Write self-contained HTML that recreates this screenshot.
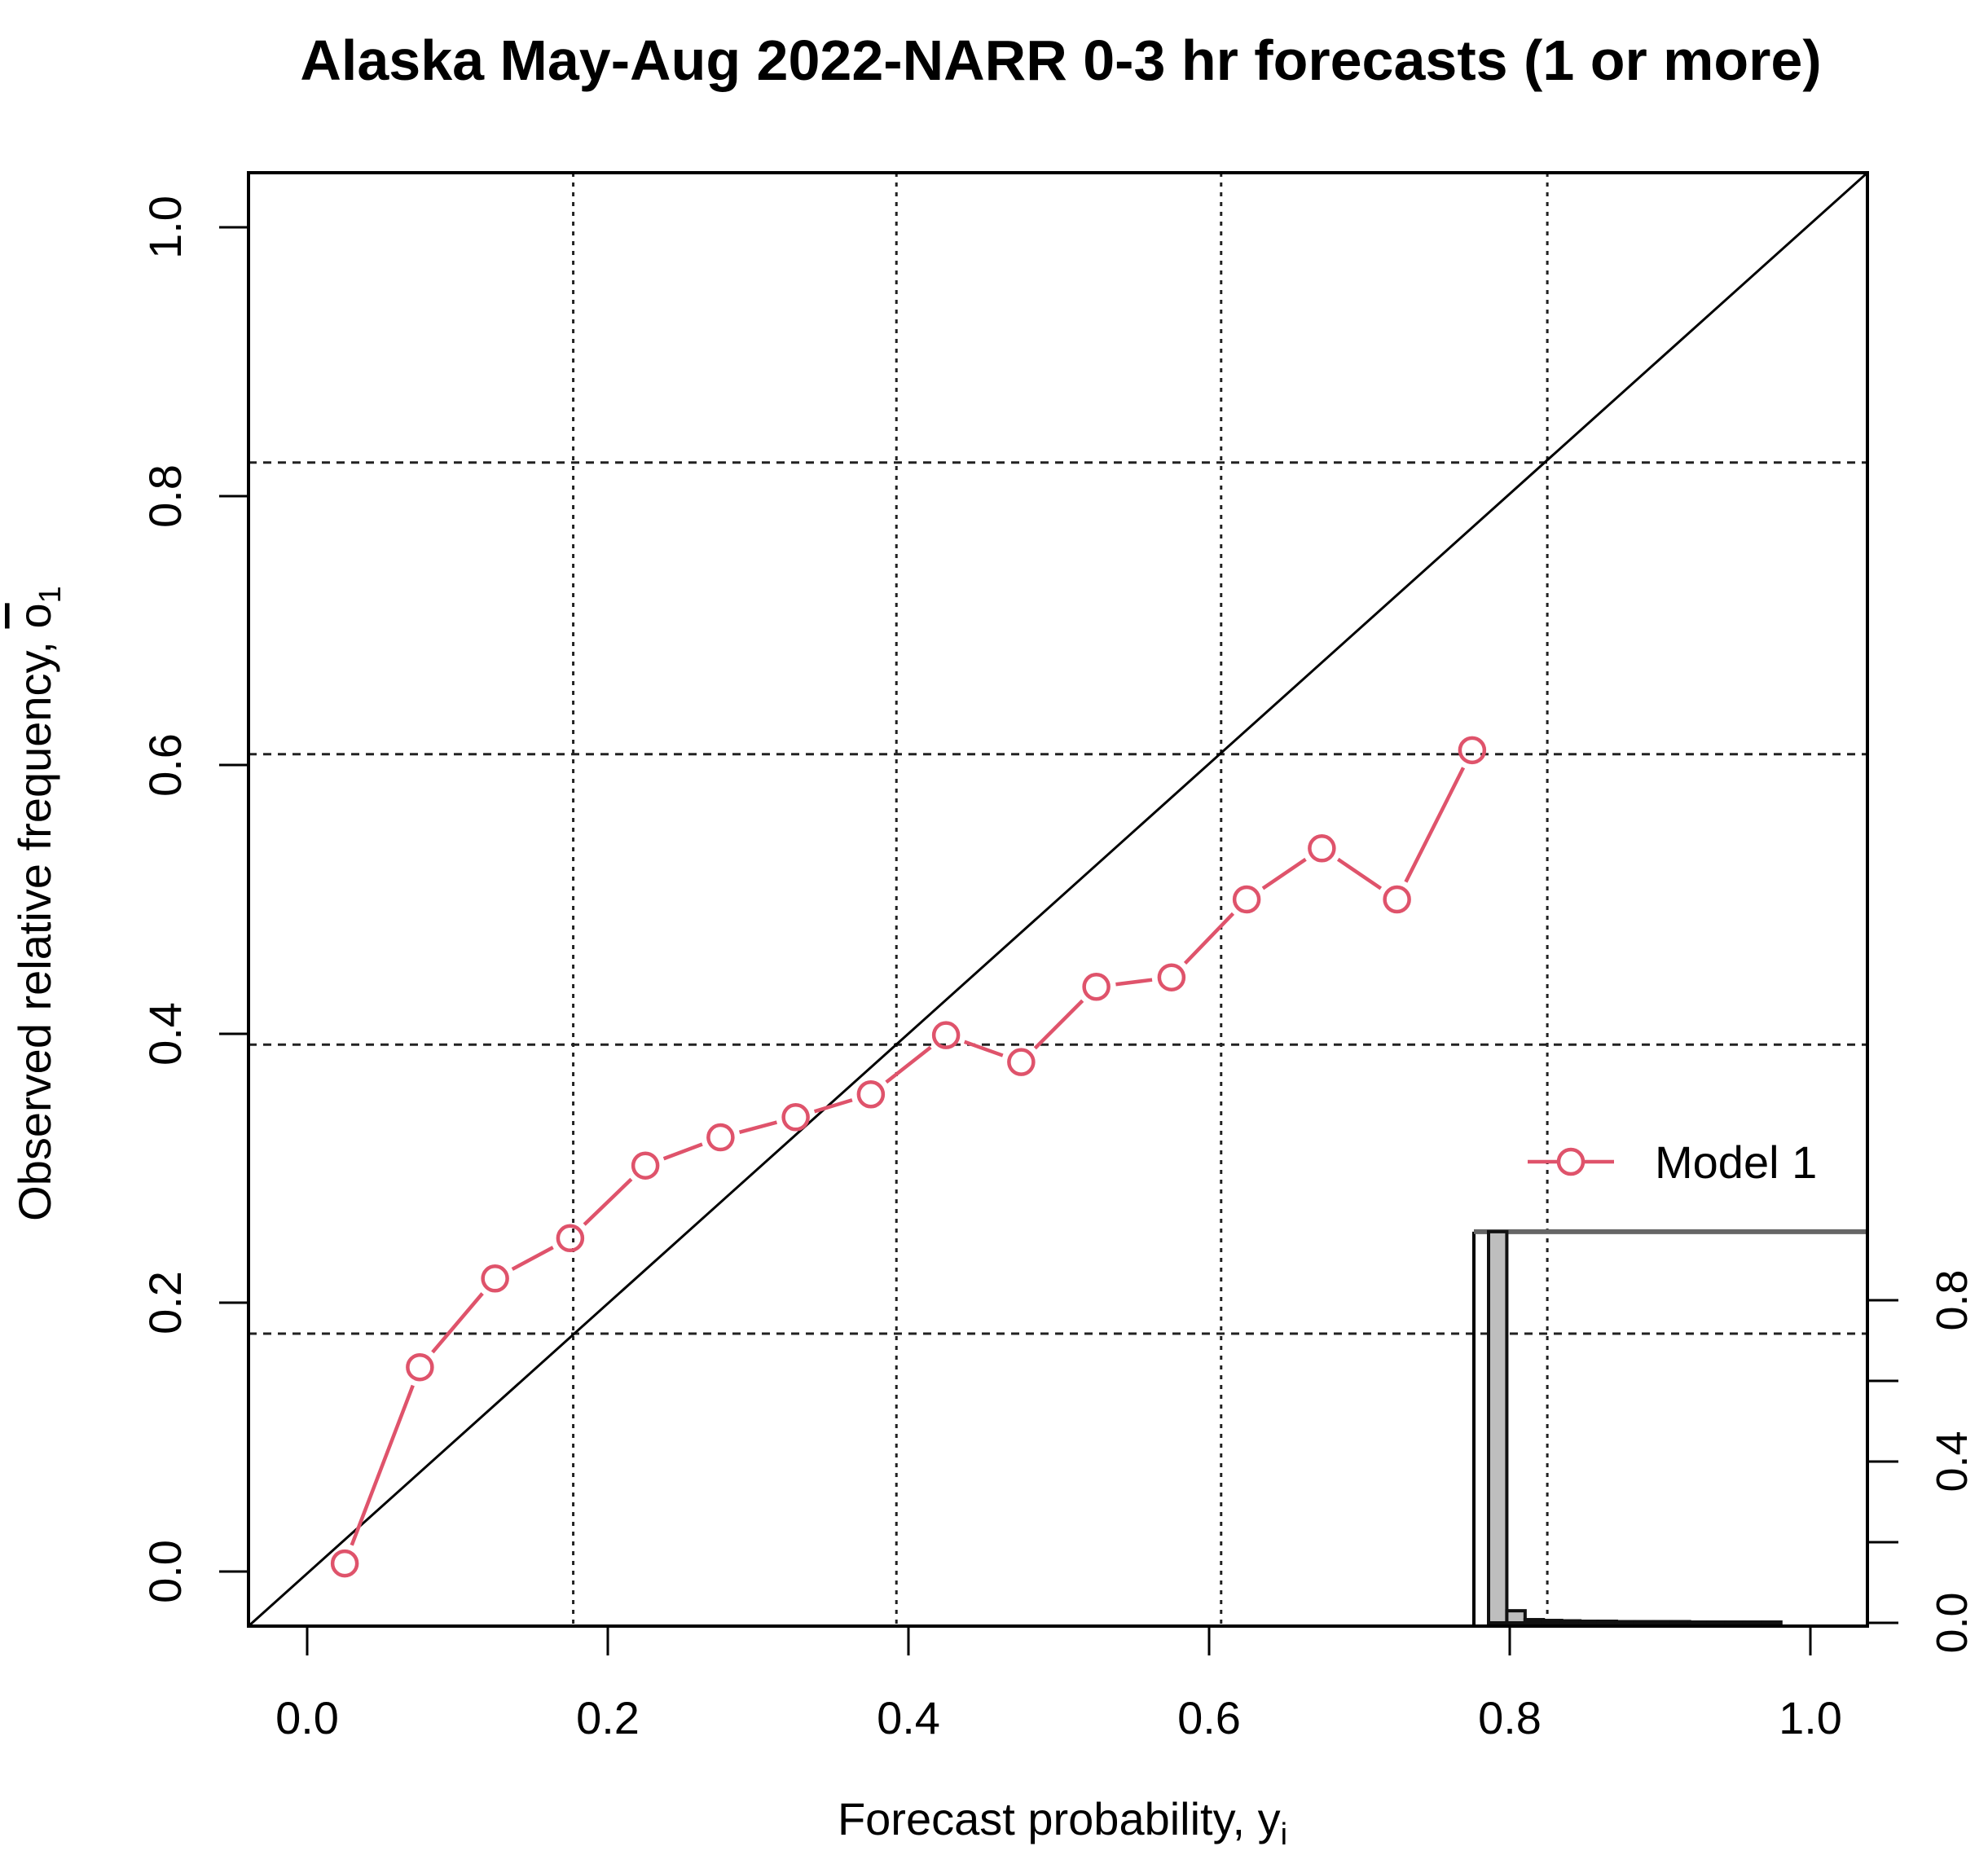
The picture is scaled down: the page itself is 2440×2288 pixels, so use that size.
<!DOCTYPE html>
<html><head><meta charset="utf-8"><style>
html,body{margin:0;padding:0;background:#fff;}
svg{display:block;font-family:"Liberation Sans",sans-serif;}
</style></head><body>
<svg id="chart" width="2440" height="2288" viewBox="0 0 2440 2288" xmlns="http://www.w3.org/2000/svg">
<rect width="2440" height="2288" fill="#fff"/>
<text x="1302" y="98" font-size="70" font-weight="bold" text-anchor="middle">Alaska May-Aug 2022-NARR 0-3 hr forecasts (1 or more)</text>
<text x="1304" y="2252" font-size="56" text-anchor="middle">Forecast probability, y<tspan font-size="38" dy="12">i</tspan></text>
<text transform="translate(62,1109) rotate(-90)" font-size="56" text-anchor="middle">Observed relative frequency, <tspan text-decoration="overline">o</tspan><tspan font-size="38" dy="12">1</tspan></text>
<g id="layer"></g>
</svg>
<script>
const categories=[0.025,0.075,0.125,0.175,0.225,0.275,0.325,0.375,0.425,0.475,0.525,0.575,0.625,0.675,0.725,0.775];
const observed=[0.006,0.152,0.218,0.248,0.302,0.323,0.338,0.355,0.399,0.379,0.435,0.442,0.5,0.538,0.5,0.611];
const histFreq=[0.97,0.03,0.008,0.006,0.005,0.004,0.004,0.003,0.003,0.003,0.003,0.002,0.002,0.002,0.002,0.002];
const gridVals=[0.177,0.392,0.608,0.825];
const xTicks=[0,0.2,0.4,0.6,0.8,1.0];
const xTickLabels=["0.0","0.2","0.4","0.6","0.8","1.0"];
const yTicks=[0,0.2,0.4,0.6,0.8,1.0];
const yTickLabels=["0.0","0.2","0.4","0.6","0.8","1.0"];
const insetTicks=[0,0.2,0.4,0.6,0.8];
const insetTickLabels=["0.0","","0.4","","0.8"];

const L=305,R=2292,T=212,B=1996;
const sx=v=>377+v*1845;
const sy=v=>1929-v*1650;
const ix=v=>1827+v*448.5;
const iy=v=>1992-v*495;
const NS="http://www.w3.org/2000/svg";
const g=document.getElementById('layer');
function mk(tag,attrs,parent){const e=document.createElementNS(NS,tag);for(const k in attrs)e.setAttribute(k,attrs[k]);(parent||g).appendChild(e);return e;}

gridVals.forEach(v=>{
  const a=mk('line',{x1:sx(v),x2:sx(v),y1:T,y2:B,stroke:'#222','stroke-width':3,'stroke-dasharray':'5 7'});
  
  
  const b=mk('line',{x1:L,x2:R,y1:sy(v),y2:sy(v),stroke:'#222','stroke-width':3,'stroke-dasharray':'10 8'});
  
  
});
const d=mk('line',{x1:L,y1:B,x2:R,y2:T,stroke:'#000','stroke-width':3});



const ib=mk('line',{x1:1809,x2:1809,y1:iy(0.97),y2:B,stroke:'#000','stroke-width':4});


const it=mk('line',{x1:1809,x2:R,y1:iy(0.97),y2:iy(0.97),stroke:'#666','stroke-width':6});


histFreq.forEach((f,i)=>{
  const x0=ix(categories[i]-0.025),x1=ix(categories[i]+0.025);
  const r=mk('rect',{x:x0,y:iy(f),width:x1-x0,height:iy(0)-iy(f),fill:'#bebebe',stroke:'#111','stroke-width':4});
  
  
});
insetTicks.forEach((v,i)=>{
  const t=mk('line',{x1:R,x2:2330,y1:iy(v),y2:iy(v),stroke:'#000','stroke-width':3});
  
  
  if(insetTickLabels[i]){
    const tx=mk('text',{transform:`translate(2414,${iy(v)}) rotate(-90)`,'font-size':54,'text-anchor':'middle'});
    
    
    tx.textContent=insetTickLabels[i];
  }
});

const col='#DF536B';
for(let i=0;i<categories.length-1;i++){
  const x1=sx(categories[i]),y1=sy(observed[i]),x2=sx(categories[i+1]),y2=sy(observed[i+1]);
  const dx=x2-x1,dy=y2-y1,len=Math.hypot(dx,dy),gap=24;
  if(len>2*gap){
    const s=mk('line',{x1:x1+dx*gap/len,y1:y1+dy*gap/len,x2:x2-dx*gap/len,y2:y2-dy*gap/len,stroke:col,'stroke-width':4.5});
    
    
  }
}
categories.forEach((c,i)=>{
  const p=mk('circle',{cx:sx(c),cy:sy(observed[i]),r:15,fill:'none',stroke:col,'stroke-width':4.5});
  
  
});

const fr=mk('rect',{x:L,y:T,width:R-L,height:B-T,fill:'none',stroke:'#000','stroke-width':4});



xTicks.forEach((v,i)=>{
  const t=mk('line',{x1:sx(v),x2:sx(v),y1:B,y2:2032,stroke:'#000','stroke-width':3});
  
  
  const tx=mk('text',{x:sx(v),y:2128,'font-size':56,'text-anchor':'middle'});
  
  
  tx.textContent=xTickLabels[i];
});
yTicks.forEach((v,i)=>{
  const t=mk('line',{x1:269,x2:L,y1:sy(v),y2:sy(v),stroke:'#000','stroke-width':3});
  
  
  const tx=mk('text',{transform:`translate(222,${sy(v)}) rotate(-90)`,'font-size':56,'text-anchor':'middle'});
  
  
  tx.textContent=yTickLabels[i];
});

const lg=mk('g',{});


mk('line',{x1:1875,x2:1981,y1:1426,y2:1426,stroke:col,'stroke-width':4.5},lg);
mk('circle',{cx:1928,cy:1426,r:15,fill:'#fff',stroke:col,'stroke-width':4.5},lg);
const lt=mk('text',{x:2031,y:1446,'font-size':56},lg);


lt.textContent='Model 1';
</script>
</body></html>
